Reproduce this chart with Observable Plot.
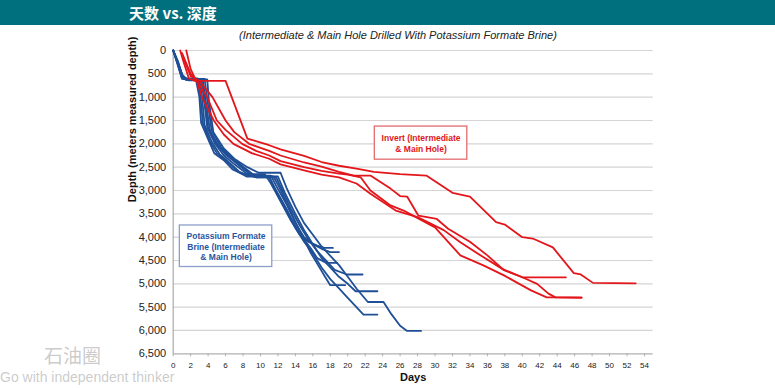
<!DOCTYPE html>
<html>
<head>
<meta charset="utf-8">
<script src="https://cdn.jsdelivr.net/npm/d3@7"></script>
<script src="https://cdn.jsdelivr.net/npm/@observablehq/plot@0.6"></script>
<style>
  html, body { margin: 0; padding: 0; background: #fff; }
  #wrap { position: relative; width: 775px; height: 388px; overflow: hidden; font-family: "Liberation Sans", Arial, sans-serif; }
  #header { position: absolute; left: 0; top: 0; width: 775px; height: 25px; background: #00707f; }
  #title { position: absolute; left: 3px; top: 0; width: 340px; height: 25px; line-height: 25px; text-align: center; color: #fff; font-weight: bold; font-size: 15px; font-family: "Noto Sans CJK SC", sans-serif; }
  #subtitle { position: absolute; left: 0; top: 29px; width: 796px; text-align: center; font-style: italic; font-size: 11px; color: #222; }
  #chart { position: absolute; left: 0; top: 0; }
  #wm1 { position: absolute; left: 44px; top: 341px; font-size: 19px; color: rgba(160,160,160,0.55); font-family: "Noto Sans CJK SC", sans-serif; }
  #wm2 { position: absolute; left: 0px; top: 369px; font-size: 14px; color: rgba(160,160,160,0.55); font-family: "Liberation Sans", Arial, sans-serif; }
</style>
</head>
<body>
<div id="wrap">
  <div id="chart"></div>
  <div id="header"><div id="title">天数 vs. 深度</div></div>
  <div id="subtitle">(Intermediate &amp; Main Hole Drilled With Potassium Formate Brine)</div>
  <div id="wm1">石油圈</div>
  <div id="wm2">Go with independent thinker</div>
</div>
<script>
// ---- Data: [days, depth (m MD)] ----
const blue1 = [[0,0],[0.5,250],[1,560],[1.4,620],[2.6,620],[3.0,1000],[3.2,1550],[4.0,1900],[4.7,2200],[5.8,2350],[6.8,2550],[8.0,2650],[10.5,2650],[11.2,2850],[12.5,3300],[13.5,3650],[14.5,3950],[15.5,4100],[16.5,4180],[17.3,4230],[18.3,4230]];
const blue2 = [[0,0],[0.6,300],[1.1,580],[1.5,630],[3.0,630],[3.3,1000],[3.6,1600],[4.4,1950],[5.3,2220],[6.4,2400],[7.6,2600],[8.6,2680],[11.2,2680],[11.8,2900],[13,3300],[14,3700],[15,4000],[16,4150],[17,4250],[18,4320],[19,4320]];
const blue3 = [[0,0],[0.5,280],[1,600],[1.6,620],[3.2,620],[3.5,1000],[3.9,1650],[4.8,2000],[5.8,2250],[7.1,2450],[8.5,2650],[9.5,2720],[11.8,2720],[12.5,3000],[13.5,3400],[14.5,3750],[15.5,4050],[16.5,4300],[17.5,4500],[18.5,4700],[19.9,4800],[21.7,4800]];
const blue4 = [[0,0],[0.7,350],[1.2,600],[1.8,640],[3.4,640],[3.7,1050],[4.2,1700],[5.2,2050],[6.3,2250],[7.7,2480],[9.2,2700],[11.5,2700],[12.2,2950],[13.2,3350],[14.2,3750],[15,4050],[15.8,4350],[16.6,4600],[17.4,4850],[18,5030],[19.7,5030]];
const blue5 = [[0,0],[0.5,220],[1,520],[1.5,600],[2.8,600],[3.1,950],[3.4,1550],[4.2,1950],[5.0,2200],[6.2,2380],[7.4,2600],[8.4,2700],[12,2700],[12.8,3050],[14,3500],[15,3850],[16,4150],[17,4450],[18,4650],[19,4850],[20,5000],[20.9,5160],[23.4,5160]];
const blue6 = [[0,0],[0.6,260],[1.1,580],[1.6,610],[3.6,610],[3.9,1050],[4.4,1700],[5.5,2080],[6.8,2300],[8.2,2520],[9.6,2720],[11,2720],[11.8,3000],[13,3400],[14,3800],[15,4100],[16,4350],[17,4650],[18,4900],[19,5100],[20,5300],[21,5500],[21.8,5660],[23.4,5660]];
const blue7 = [[0,0],[0.5,300],[1,600],[1.5,620],[3.9,620],[4.1,1100],[4.6,1750],[5.8,2100],[7.0,2320],[8.5,2500],[9.8,2620],[12.3,2620],[13,2950],[14,3350],[15,3700],[16,3950],[17,4200],[18,4400],[19,4600],[20,4850],[21,5100],[22.3,5390],[24.1,5390],[25,5650],[26,5900],[26.8,6010],[28.4,6010]];
const blue8 = [[0,0],[0.6,320],[1.2,590],[1.7,630],[3.3,630],[3.6,1000],[4.0,1650],[4.9,1980],[6.0,2230],[7.3,2420],[8.8,2650],[9.8,2690],[11,2690],[11.6,2950],[12.8,3350],[13.8,3700],[14.8,4000],[15.8,4250],[16.5,4450],[17.5,4550],[18.8,4550]];

const red1 = [[0.8,0],[1.2,250],[1.8,600],[2.5,650],[6.0,650],[8.5,1890],[9.3,1930],[11,2030],[12.3,2120],[15,2260],[17,2390],[19,2470],[21,2530],[23,2600],[26,2650],[29,2680],[32,3050],[34,3130],[37,3680],[38,3730],[40,4000],[41.2,4030],[43.5,4220],[45.9,4770],[46.7,4800],[48.1,4980],[53,4990]];
const red2 = [[1,80],[2,550],[3,650],[4.5,1000],[6,1500],[7,1750],[8.7,2000],[9.6,2060],[11,2150],[12.3,2250],[15,2400],[17,2490],[19,2600],[20.7,2680],[22.6,2680],[24.9,2960],[26,3120],[26.8,3130],[28.1,3540],[30.2,3610],[31.5,3820],[34,4100],[36,4390],[37.9,4710],[40,4860],[45,4860]];
const red3 = [[1.5,0],[2,400],[2.5,600],[3.9,1000],[5.0,1500],[6,1700],[7.9,2000],[9.5,2150],[11,2250],[12.3,2370],[15,2500],[17,2580],[19,2640],[20,2660],[21.5,2720],[22.6,3000],[24.9,3320],[26.4,3430],[27.8,3570],[30,3790],[32.9,4390],[35.6,4610],[37.9,4820],[41,5140],[42.8,5290],[46.8,5290]];
const red4 = [[1,50],[2,500],[2.7,650],[3.3,1000],[4.65,1500],[5.8,1800],[6.9,2000],[9,2200],[11,2320],[12.3,2440],[15,2570],[17,2660],[19,2720],[21,2850],[22.6,3070],[25.5,3430],[28,3570],[31,3850],[32.9,4110],[35.2,4390],[37.7,4680],[40,4860],[41.7,5000],[43,5210],[43.8,5290],[46.8,5300]];

const yTicks = [0,500,1000,1500,2000,2500,3000,3500,4000,4500,5000,5500,6000,6500];
const xTicks = [0,2,4,6,8,10,12,14,16,18,20,22,24,26,28,30,32,34,36,38,40,42,44,46,48,50,52,54];

// annotation boxes (data coordinates)
const boxLabels = ["Potassium Formate\nBrine (Intermediate\n& Main Hole)", "Invert (Intermediate\n& Main Hole)"];
const boxX1 = [0.76, 23.1];
const boxX2 = [11.35, 33.7];
const boxY1 = [3750, 1630];
const boxY2 = [4640, 2340];
const boxColors = ["#2a56a0", "#e0161c"];
const boxStroke = ["#8d9fc9", "#e36a6e"];

const BLUE = "#1f4f96";
const RED = "#e3161b";

const blueSeries = [blue1, blue2, blue3, blue4, blue5, blue6, blue7, blue8];
const redSeries = [red1, red2, red3, red4];
const rows = [];
blueSeries.forEach((s, i) => s.forEach(([d, m]) => rows.push({group: "Formate", id: "b" + i, days: d, depth: m})));
redSeries.forEach((s, i) => s.forEach(([d, m]) => rows.push({group: "Invert", id: "r" + i, days: d, depth: m})));
const boxes = boxLabels.map((t, i) => ({text: t, x1: boxX1[i], x2: boxX2[i], y1: boxY1[i], y2: boxY2[i], color: boxColors[i], stroke: boxStroke[i]}));

const chart = Plot.plot({
  width: 775,
  height: 388,
  marginLeft: 172.7,
  marginRight: 122.3,
  marginTop: 50,
  marginBottom: 34.7,
  style: {fontFamily: "Liberation Sans, Arial, sans-serif", color: "#222", background: "transparent"},
  x: {domain: [0, 55]},
  y: {domain: [0, 6500], reverse: true},
  marks: [
    Plot.ruleY(yTicks.slice(0, -1), {y: d => d, stroke: "#d4d4d4", strokeWidth: 1.2}),
    Plot.ruleY([6500], {stroke: "#b0b0b0", strokeWidth: 1.3}),
    Plot.ruleX([0], {stroke: "#b0b0b0", strokeWidth: 1.3}),
    Plot.axisY({ticks: yTicks, tickFormat: d3.format(","), tickSize: 0, tickPadding: 7, fontSize: 11, label: null}),
    Plot.axisX({ticks: xTicks, tickSize: 3, tickPadding: 6, fontSize: 8, label: null, stroke: "#b0b0b0"}),
    Plot.line(rows.filter(d => d.group === "Formate"), {x: "days", y: "depth", z: "id", stroke: BLUE, strokeWidth: 1.8, curve: "linear"}),
    Plot.line(rows.filter(d => d.group === "Invert"), {x: "days", y: "depth", z: "id", stroke: RED, strokeWidth: 1.8, curve: "linear"}),
    Plot.rect(boxes, {x1: "x1", x2: "x2", y1: "y1", y2: "y2", fill: "white", stroke: "stroke", strokeWidth: 1.3}),
    Plot.text(boxes, {x: d => (d.x1 + d.x2) / 2, y: d => (d.y1 + d.y2) / 2, text: "text", fill: "color", fontWeight: "bold", fontSize: 8.5, lineHeight: 1.27}),
    Plot.text(["Depth (meters measured depth)"], {frameAnchor: "left", text: d => d, rotate: -90, dx: -41, fontWeight: "bold", fontSize: 11, fill: "#111"}),
    Plot.text(["Days"], {frameAnchor: "bottom", text: d => d, dy: 27, fontWeight: "bold", fontSize: 11, fill: "#111"})
  ]
});
document.getElementById("chart").appendChild(chart);
</script>
</body>
</html>
